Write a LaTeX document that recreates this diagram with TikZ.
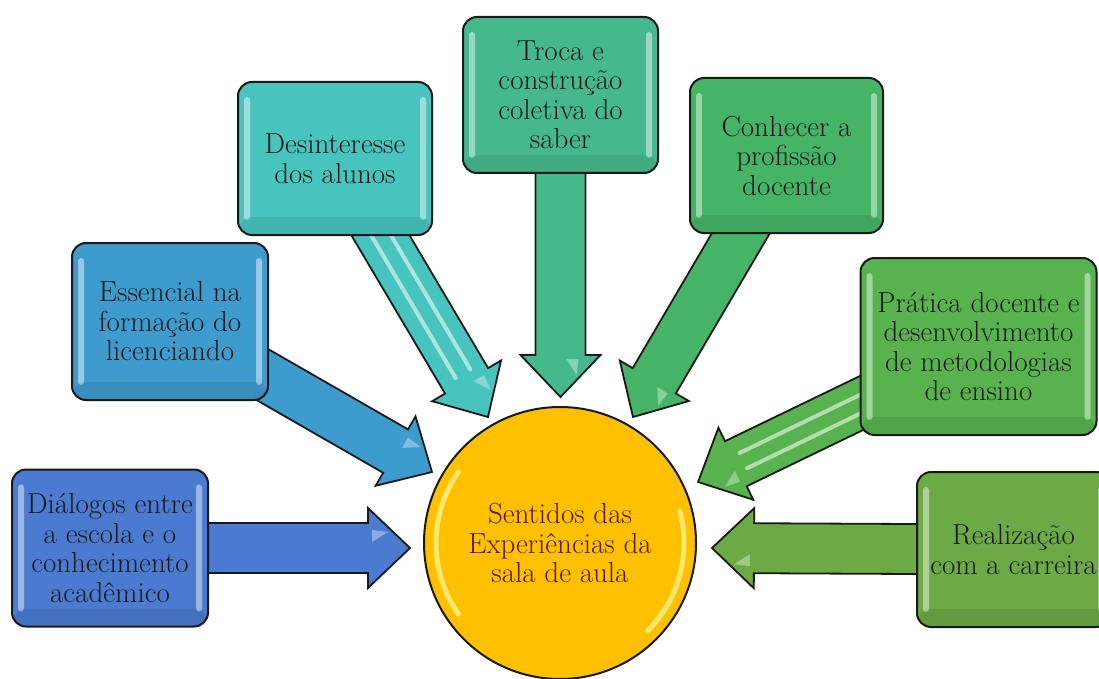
\documentclass[tikz,border=0pt]{standalone}
\usepackage{fontspec}
\usetikzlibrary{calc,backgrounds}
\definecolor{cDial}{HTML}{4A7BD0}
\definecolor{cEss}{HTML}{3E9BCE}
\definecolor{cDes}{HTML}{48C4BE}
\definecolor{cTro}{HTML}{46B98C}
\definecolor{cCon}{HTML}{46B466}
\definecolor{cPra}{HTML}{58B24E}
\definecolor{cRea}{HTML}{6CAA46}
\definecolor{cSun}{HTML}{FFC000}
\definecolor{cSunTxt}{HTML}{5C1A00}
\newcommand\labelfont{\fontsize{29}{29.5}\selectfont\addfontfeature{FakeBold=0.5}}
\tikzset{
  x=1pt, y=-1pt,
  box/.style={draw=black!90, line width=2pt, rounded corners=14pt, align=center,
    text=black!90, font=\labelfont, inner sep=0pt,
    path picture={
      \fill[white,opacity=.45,rounded corners=3pt]
        ([xshift=6pt,yshift=-15pt]path picture bounding box.north west) rectangle
        ([xshift=12pt,yshift=15pt]path picture bounding box.south west);
      \fill[white,opacity=.45,rounded corners=3pt]
        ([xshift=-6pt,yshift=-15pt]path picture bounding box.north east) rectangle
        ([xshift=-12pt,yshift=15pt]path picture bounding box.south east);
      \fill[black,opacity=.08]
        ([yshift=18pt]path picture bounding box.south west) rectangle
        (path picture bounding box.south east);
    }},
  sun/.style={circle, draw=black!90, line width=2pt, fill=cSun, minimum size=272pt,
    inner sep=0pt, align=center, text=cSunTxt, font=\labelfont,
    path picture={
      \draw[yellow!40!white, line width=5pt, opacity=.7, line cap=round]
        ([shift={(145:124pt)}]path picture bounding box.center) arc[start angle=145, end angle=215, radius=124pt];
      \draw[yellow!40!white, line width=5pt, opacity=.7, line cap=round]
        ([shift={(-45:124pt)}]path picture bounding box.center) arc[start angle=-45, end angle=15, radius=124pt];
    }},
  arrowline/.style={draw=black!90, line width=1.8pt, line join=miter},
}
\newcommand\fatarrow[3]{%
  \path[arrowline, fill=#3] let \p1=(#1), \p2=(#2),
     \n1={atan2(\y2-\y1,\x2-\x1)}, \n2={veclen(\x2-\x1,\y2-\y1)}, \n3={\n2-42pt}
   in {[shift={(\p1)}, rotate=\n1]
     (0pt,-25pt) -- (\n3,-25pt) -- (\n3,-40pt) -- (\n2,0pt) -- (\n3,40pt) -- (\n3,25pt) -- (0pt,25pt) -- cycle};
  \path[fill=white, opacity=.35] let \p1=(#1), \p2=(#2),
     \n1={atan2(\y2-\y1,\x2-\x1)}, \n2={veclen(\x2-\x1,\y2-\y1)}, \n3={\n2-38pt}, \n4={\n2-22pt}
   in {[shift={(\p1)}, rotate=\n1]
     (\n3,6pt) -- (\n4,16pt) -- (\n3,18pt) -- cycle};
}
\newcommand\arrowstripes[2]{%
  \path[draw=white, opacity=.55, line width=4pt, line cap=round] let \p1=(#1), \p2=(#2),
     \n1={atan2(\y2-\y1,\x2-\x1)}, \n2={veclen(\x2-\x1,\y2-\y1)}, \n3={\n2-50pt}
   in {[shift={(\p1)}, rotate=\n1]
     (10pt,-8pt) -- (\n3,-8pt) (10pt,9pt) -- (\n3,9pt)};
}
\begin{document}
\begin{tikzpicture}
\useasboundingbox (0,0) rectangle (1099,679);

\node[box, fill=cDial, minimum width=196pt, minimum height=157pt] (dial) at (110,548)
  {Diálogos entre\\a escola e o\\conhecimento\\acadêmico};
\node[box, fill=cEss, minimum width=196pt, minimum height=157pt] (ess) at (170,321.5)
  {Essencial na\\formação do\\licenciando};
\node[box, fill=cDes, minimum width=194pt, minimum height=153pt] (des) at (335,158.5)
  {Desinteresse\\dos alunos};
\node[box, fill=cTro, minimum width=195pt, minimum height=156pt] (tro) at (560.5,95)
  {Troca e\\construção\\coletiva do\\saber};
\node[box, fill=cCon, minimum width=193pt, minimum height=155pt] (con) at (786.5,155.5)
  {Conhecer a\\profissão\\docente};
\node[box, fill=cPra, minimum width=236pt, minimum height=177pt] (pra) at (978.5,346.5)
  {Prática docente e\\desenvolvimento\\de metodologias\\de ensino};
\node[box, fill=cRea, minimum width=193pt, minimum height=155pt] (rea) at (1013.5,549.5)
  {Realização\\com a carreira};

\node[sun] (sun) at (560,543) {Sentidos das\\Experiências da\\sala de aula};

\coordinate (t1) at (410,548);
\coordinate (t2) at (432,472);
\coordinate (t3) at (488,417);
\coordinate (t4) at (560.5,397);
\coordinate (t5) at (633,417);
\coordinate (t6) at (698,482);
\coordinate (t7) at (712,548);

\begin{scope}[on background layer]
  \fatarrow{dial}{t1}{cDial}
  \fatarrow{ess}{t2}{cEss}
  \fatarrow{des}{t3}{cDes}
  \arrowstripes{des}{t3}
  \fatarrow{tro}{t4}{cTro}
  \fatarrow{con}{t5}{cCon}
  \fatarrow{pra}{t6}{cPra}
  \arrowstripes{pra}{t6}
  \fatarrow{rea}{t7}{cRea}
\end{scope}
\end{tikzpicture}
\end{document}
